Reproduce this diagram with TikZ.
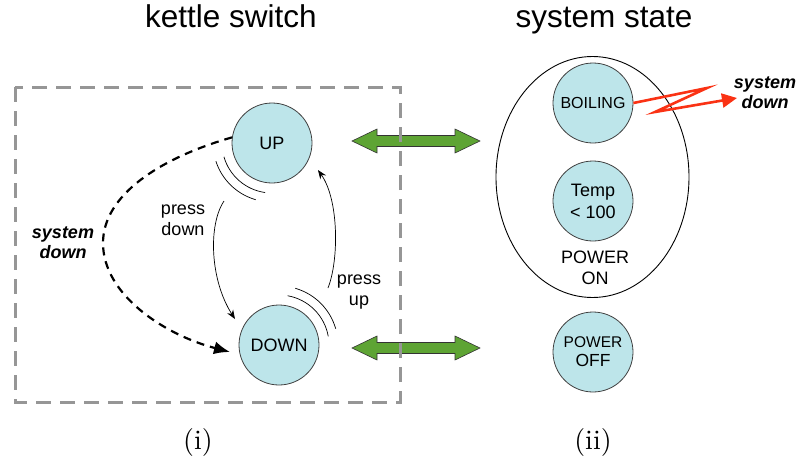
\documentclass[tikz,border=0pt]{standalone}
\usepackage{fontspec}
\newfontfamily\arial{Liberation Sans}
\newfontfamily\cmten{lmroman10-regular.otf}
\usetikzlibrary{arrows.meta,shapes.geometric,calc}
\definecolor{nodefill}{RGB}{189,229,234}
\definecolor{arrgreen}{RGB}{94,164,52}
\definecolor{zred}{RGB}{250,50,20}
\definecolor{boxgray}{RGB}{150,150,150}
\begin{document}
\begin{tikzpicture}[x=1pt,y=-1pt,
  state/.style={circle, draw=black!75, line width=0.8pt, fill=nodefill, minimum size=80pt, inner sep=0pt, align=center, font=\arial\fontsize{18}{22}\selectfont},
  lbl/.style={align=center, font=\arial\fontsize{18}{21.5}\selectfont, inner sep=0pt},
  bilbl/.style={align=center, font=\arial\bfseries\itshape\fontsize{18}{20}\selectfont, inner sep=0pt},
  ttl/.style={anchor=base, font=\arial\fontsize{31.5}{34}\selectfont, inner sep=0pt},
  caplbl/.style={font=\cmten\fontsize{28}{30}\selectfont, inner sep=0pt},
  bigarrow/.style={fill=arrgreen, draw=black!80, line width=0.6pt, line join=miter},
  trans/.style={line width=0.7pt, -{Stealth[length=9pt,width=7pt]}},
  sound/.style={line width=0.7pt},
]
\useasboundingbox (0,0) rectangle (801,461);

% titles and captions
\node[ttl] (t1) at (231,27) {kettle switch};
\node[ttl] (t2) at (604,27) {system state};
\node[caplbl] (c1) at (198,442) {(i)};
\node[caplbl] (c2) at (593,442) {(ii)};

% green double arrows
\draw[bigarrow] (352,141) -- (377,129) -- (377,135.5) -- (455,135.5) -- (455,129) -- (480,141) -- (455,153) -- (455,146.5) -- (377,146.5) -- (377,153) -- cycle;
\draw[bigarrow] (352,348) -- (377,336) -- (377,342.5) -- (455,342.5) -- (455,336) -- (480,348) -- (455,360) -- (455,353.5) -- (377,353.5) -- (377,360) -- cycle;

% dashed frame
\draw[boxgray, line width=3pt, dash pattern=on 15pt off 9pt] (15,87) rectangle (400,402);

% kettle switch states
\node[state] (up) at (272,143) {UP};
\node[state] (down) at (279,345) {DOWN};

% sound arcs
\draw[sound] ($(up.center)+(196:50pt)$) arc[start angle=196, end angle=262, radius=50pt];
\draw[sound] ($(up.center)+(198:59pt)$) arc[start angle=198, end angle=254, radius=59pt];
\draw[sound] ($(down.center)+(10:50pt)$) arc[start angle=10, end angle=80, radius=50pt];
\draw[sound] ($(down.center)+(16:59pt)$) arc[start angle=16, end angle=74, radius=59pt];

% transitions
\draw[trans] ($(up.center)+(-48,58)$) .. controls (208,225) and (210,280) .. ($(down.center)+(-44,-26)$);
\draw[trans] ($(down.center)+(49,-57)$) .. controls (339,260) and (339,200) .. ($(up.center)+(46,27)$);
\node[lbl] (pd) at (183,220) {press\\down};
\node[lbl] (pu) at (359,292) {press\\up};

% system down (left)
\draw[line width=2.2pt, dash pattern=on 8pt off 6pt, -{Latex[length=16pt,width=13pt]}]
  (up.172) .. controls (160,158) and (103,195) .. (103,243)
  .. controls (103,295) and (165,335) .. ($(down.center)+(-49,7)$);
\node[bilbl] (sd1) at (63,243) {system\\down};

% system state side
\node[ellipse, draw, line width=0.9pt, minimum width=193pt, minimum height=241pt, inner sep=0pt] (on) at (592.5,177) {};
\node[state, font=\arial\fontsize{16}{20}\selectfont] (boil) at (593,103) {BOILING};
\node[state] (temp) at (593,201) {Temp\\< 100};
\node[lbl] (pon) at (595,268) {POWER\\ON};
\node[state, font=\arial\fontsize{17.5}{19}\selectfont] (off) at (593,352) {{\fontsize{15.5}{19}\selectfont POWER}\\OFF};

% red zigzag
\draw[zred, line width=2.6pt, line join=miter, -{Triangle[length=15pt,width=14pt]}]
  (boil.east) -- (707,88) -- (655,112) -- (737,98);
\node[bilbl] (sd2) at (765,93) {system\\down};
\end{tikzpicture}
\end{document}
